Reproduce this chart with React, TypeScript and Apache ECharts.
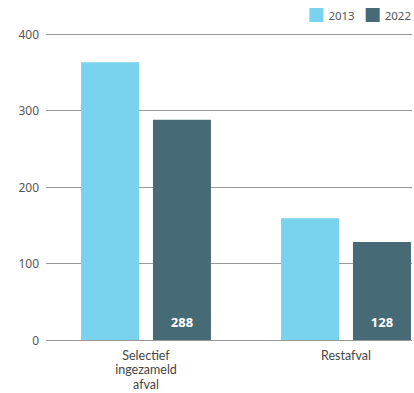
import React, { useEffect, useRef } from "react";
import * as echarts from "echarts";

const categories = ["Selectief\ningezameld\nafval", "Restafval"];
const values2013 = [363, 159];
const values2022 = [288, 128];
const yTicks = { min: 0, max: 400, interval: 100 };
const seriesNames = ["2013", "2022"];
const colors = ["#79D2EE", "#476A77"];

export default function App() {
  const ref = useRef<HTMLDivElement>(null);
  useEffect(() => {
    if (!ref.current) return;
    const chart = echarts.init(ref.current, undefined, { renderer: "svg" });
    const font = "'Noto Sans', sans-serif";
    chart.setOption({
      animation: false,
      textStyle: { fontFamily: font },
      legend: {
        data: seriesNames,
        right: 35,
        top: 8,
        padding: 0,
        itemWidth: 14,
        itemHeight: 14,
        itemGap: 11,
        icon: "rect",
        textStyle: { fontSize: 11.5, color: "#555", fontFamily: font },
      },
      grid: [
        { left: 46, right: 34, top: 34, height: 306, containLabel: false },
        { left: 46, right: 0, top: 34, height: 306, containLabel: false },
      ],
      xAxis: [
        { type: "category", gridIndex: 0, data: categories, show: false },
        {
          type: "category",
          gridIndex: 1,
          data: categories,
          axisLine: { show: false },
          axisTick: { show: false },
          axisLabel: {
            margin: 8,
            fontSize: 12.5,
            lineHeight: 14.5,
            color: "#444",
            fontFamily: "Lato, sans-serif",
          },
        },
      ],
      yAxis: [
        {
          type: "value",
          gridIndex: 0,
          min: yTicks.min,
          max: yTicks.max,
          interval: yTicks.interval,
          axisLine: { show: false },
          axisTick: { show: false },
          axisLabel: { margin: 7, fontSize: 12, color: "#555", fontFamily: font },
          splitLine: { lineStyle: { color: "#999", width: 1 } },
        },
        {
          type: "value",
          gridIndex: 1,
          min: yTicks.min,
          max: yTicks.max,
          interval: yTicks.interval,
          show: false,
          splitLine: { show: false },
        },
      ],
      series: [
        {
          name: seriesNames[0],
          type: "bar",
          xAxisIndex: 1,
          yAxisIndex: 1,
          data: values2013,
          barWidth: 58,
          barGap: "24%",
          itemStyle: { color: colors[0] },
        },
        {
          name: seriesNames[1],
          type: "bar",
          xAxisIndex: 1,
          yAxisIndex: 1,
          data: values2022,
          barWidth: 58,
          itemStyle: { color: colors[1] },
          label: {
            show: true,
            position: "insideBottom",
            distance: 12,
            color: "#fff",
            fontWeight: "bold",
            fontSize: 13,
            fontFamily: font,
          },
        },
      ],
    });
    return () => chart.dispose();
  }, []);
  return (
    <div
      style={{
        position: "fixed",
        left: 0,
        top: 0,
        width: 414,
        height: 393,
        overflow: "hidden",
        background: "#fff",
      }}
    >
      <div ref={ref} style={{ width: 446, height: 393 }} />
    </div>
  );
}
